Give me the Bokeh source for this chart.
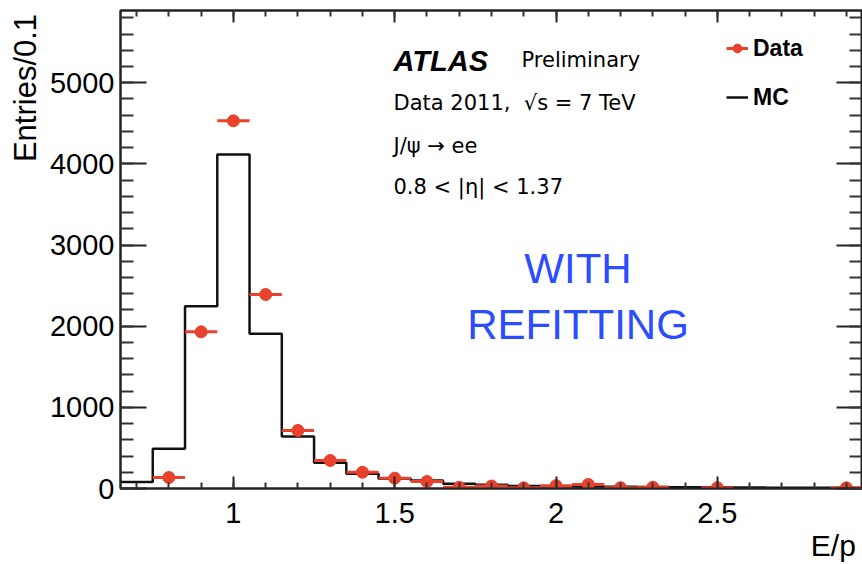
import numpy as np
from bokeh.plotting import figure
from bokeh.models import (Range1d, LinearAxis, SingleIntervalTicker, NumeralTickFormatter,
                          CustomJSTickFormatter, Label, Legend, LegendItem, ColumnDataSource)
from bokeh.embed import file_html
from bokeh.resources import INLINE

# ---------------- data ----------------
data_x = [0.8, 0.9, 1.0, 1.1, 1.2, 1.3, 1.4, 1.5, 1.6, 1.7, 1.8, 1.9, 2.0, 2.1, 2.2, 2.3, 2.5, 2.9]
data_y = [135, 1930, 4530, 2390, 715, 345, 200, 127, 86, 15, 30, 8, 35, 50, 10, 16, 10, 8]
bin_width = 0.1

mc_edges = [0.65, 0.75, 0.85, 0.95, 1.05, 1.15, 1.25, 1.35, 1.45, 1.55, 1.65, 1.75,
            1.85, 1.95, 2.05, 2.15, 2.25, 2.35, 2.45, 2.55, 2.65, 2.75, 2.85, 2.95]
mc_y = [80, 490, 2245, 4115, 1907, 641, 317, 181, 120, 100, 58, 46,
        30, 28, 25, 22, 20, 16, 14, 12, 10, 8, 6]

x_title = "E/p"
y_title = "Entries/0.1"

x_lo, x_hi = 0.65, 2.95
y_lo, y_hi = 0, 5890

RED = "#e8412c"
FONT = "Liberation Sans"
TXT_FONT = "DejaVu Sans"
NBSP = "\u00a0"

p = figure(width=862, height=564, output_backend="svg", toolbar_location=None,
           x_range=Range1d(x_lo, x_hi), y_range=Range1d(y_lo, y_hi),
           min_border_left=120, min_border_right=0, min_border_top=10, min_border_bottom=76,
           x_axis_type=None, y_axis_type=None)
p.grid.visible = False
p.outline_line_color = "#222222"
p.outline_line_width = 2
p.background_fill_color = "white"
p.border_fill_color = "white"

xt = SingleIntervalTicker(interval=0.5, num_minor_ticks=5)
yt = SingleIntervalTicker(interval=1000, num_minor_ticks=5)
blank = CustomJSTickFormatter(code="return ''")

def style_axis(ax, major_len, minor_len, labels):
    ax.axis_line_color = "#222222"
    ax.axis_line_width = 2
    ax.major_tick_line_color = "#222222"
    ax.major_tick_line_width = 2
    ax.minor_tick_line_color = "#333333"
    ax.minor_tick_line_width = 2
    ax.major_tick_in = major_len
    ax.major_tick_out = 0
    ax.minor_tick_in = minor_len
    ax.minor_tick_out = 0
    if labels:
        ax.major_label_text_font = FONT
        ax.major_label_text_font_size = "29px"
        ax.major_label_text_color = "#000000"
    else:
        ax.formatter = blank
        ax.major_label_text_font_size = "1px"
        ax.major_label_standoff = 0

# axis titles sit at the axis ends (ROOT style); the label is centred on the
# axis end, so trailing non-breaking spaces shift the visible text inwards
xb = LinearAxis(ticker=xt, formatter=NumeralTickFormatter(format="0.[0]"))
style_axis(xb, 12, 6, True)
xb.major_label_standoff = 14
xb.axis_label = x_title + NBSP * 7
xb.axis_label_align = "end"
xb.axis_label_text_font = FONT
xb.axis_label_text_font_style = "normal"
xb.axis_label_text_font_size = "30px"
xb.axis_label_text_color = "#000000"
xb.axis_label_standoff = 3
p.add_layout(xb, "below")

xa = LinearAxis(ticker=xt)
style_axis(xa, 12, 6, False)
p.add_layout(xa, "above")

yl = LinearAxis(ticker=yt)
style_axis(yl, 26, 13, True)
yl.major_label_standoff = 6
yl.axis_label = y_title + NBSP * 18
yl.axis_label_align = "end"
yl.axis_label_text_font = FONT
yl.axis_label_text_font_style = "normal"
yl.axis_label_text_font_size = "31px"
yl.axis_label_text_color = "#000000"
yl.axis_label_standoff = 4
p.add_layout(yl, "left")

yr = LinearAxis(ticker=yt)
style_axis(yr, 26, 13, False)
p.add_layout(yr, "right")

# ---------------- MC histogram ----------------
step_x = mc_edges
step_y = mc_y + [mc_y[-1]]
mc_r = p.step(step_x, step_y, mode="after", line_color="#111111", line_width=2.5)

# ---------------- Data points ----------------
dx = np.array(data_x)
dy = np.array(data_y, dtype=float)
err = np.sqrt(dy)
src = ColumnDataSource(dict(x=dx, y=dy, xl=dx - bin_width / 2, xr=dx + bin_width / 2,
                            yl=dy - err, yh=dy + err))
h_r = p.segment(x0="xl", x1="xr", y0="y", y1="y", source=src, line_color=RED, line_width=3)
v_r = p.segment(x0="x", x1="x", y0="yl", y1="yh", source=src, line_color=RED, line_width=3)
c_r = p.scatter("x", "y", source=src, size=12, marker="circle", fill_color=RED, line_color=RED)

# ---------------- Legend ----------------
leg = Legend(items=[LegendItem(label="Data", renderers=[h_r, c_r]),
                    LegendItem(label="MC", renderers=[mc_r])],
             location=(606, 377), orientation="vertical",
             glyph_width=22, glyph_height=28, label_height=28, label_standoff=5,
             spacing=21, padding=0, margin=0,
             border_line_color=None, background_fill_alpha=0,
             label_text_font=FONT, label_text_font_style="bold",
             label_text_font_size="23px", label_text_color="#000000")
p.add_layout(leg)

# ---------------- Texts ----------------
def lab(text, x, y, size, font=TXT_FONT, style="normal", color="#000000",
        align="left", baseline="alphabetic", angle=0):
    p.add_layout(Label(text=text, x=x, y=y, x_units="screen", y_units="screen",
                       text_font=font, text_font_size=size, text_font_style=style,
                       text_color=color, text_align=align, text_baseline=baseline,
                       angle=angle, angle_units="deg"))

lab("ATLAS", 273, 428, "29px", font=FONT, style="bold italic")
lab("Preliminary", 401, 428.7, "21px")
lab("Data 2011,\u00a0 \u221as = 7 TeV", 273, 386, "21px")
lab("J/\u03c8 \u2192 ee", 273, 343, "21px")
lab("0.8 < |\u03b7| < 1.37", 273, 302, "21px")

lab("WITH", 457.5, 219.7, "42px", font=FONT, color="#2b4cff", align="center")
lab("REFITTING", 457.5, 164, "42px", font=FONT, color="#2b4cff", align="center")

open("out.html", "w").write(file_html(p, INLINE))
